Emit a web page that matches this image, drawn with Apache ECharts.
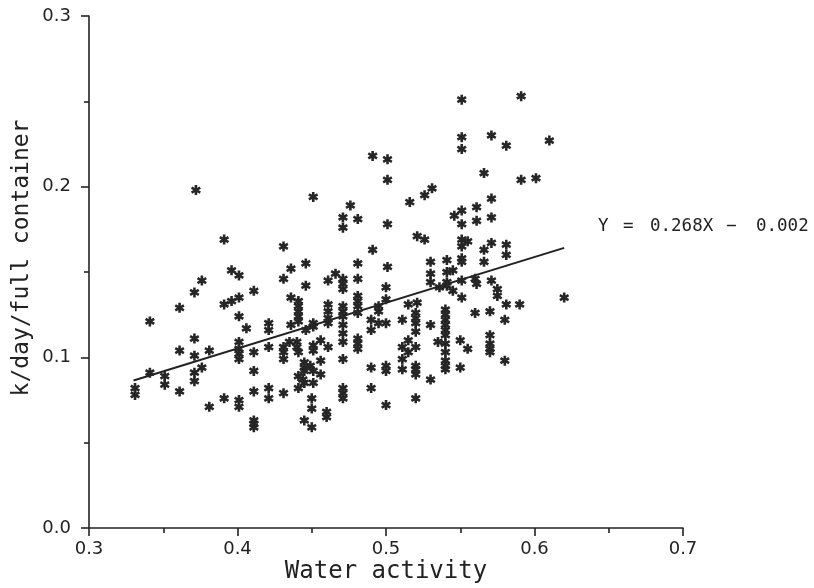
<!DOCTYPE html>
<html>
<head>
<meta charset="utf-8">
<script src="https://cdn.jsdelivr.net/npm/echarts@6/dist/echarts.min.js"></script>
<style>
  html, body { margin: 0; padding: 0; background: #ffffff; }
  #chart { width: 814px; height: 588px; }
</style>
</head>
<body>
<div id="chart"></div>
<script>
// Water activity of each container sample (x) and its rate constant k/day/full container (y)
const waterActivity = [
  0.372, 0.391, 0.396, 0.401, 0.376, 0.371, 0.411, 0.401, 0.396, 0.391,
  0.361, 0.341, 0.401, 0.406, 0.421, 0.421, 0.371, 0.361, 0.401, 0.401,
  0.401, 0.401, 0.381, 0.411, 0.421, 0.371, 0.376, 0.371, 0.371, 0.341,
  0.351, 0.351, 0.411, 0.331, 0.331, 0.361, 0.411, 0.421, 0.421, 0.391,
  0.401, 0.401, 0.381, 0.411, 0.411, 0.411,
  0.501, 0.451, 0.476, 0.516, 0.526, 0.471, 0.471, 0.481, 0.501, 0.521,
  0.526, 0.431, 0.491, 0.436, 0.446, 0.481, 0.501, 0.431, 0.466, 0.461,
  0.471, 0.471, 0.471, 0.481, 0.446, 0.500, 0.436, 0.441, 0.441, 0.481,
  0.481, 0.481, 0.500, 0.461, 0.471, 0.495, 0.515, 0.521, 0.530, 0.530,
  0.530,
  0.441, 0.441, 0.441, 0.436, 0.451, 0.451, 0.446, 0.461, 0.461, 0.461,
  0.471, 0.471, 0.481, 0.495, 0.490, 0.490, 0.495, 0.500, 0.511, 0.520,
  0.520, 0.520, 0.520, 0.530, 0.471, 0.471, 0.471, 0.435, 0.440, 0.440,
  0.441, 0.431, 0.431, 0.431, 0.451, 0.451, 0.456, 0.461, 0.481, 0.481,
  0.481, 0.471, 0.456, 0.445, 0.445, 0.445, 0.449, 0.451, 0.456, 0.451,
  0.445, 0.441, 0.441, 0.444, 0.511, 0.515, 0.515, 0.520, 0.511, 0.490,
  0.500, 0.500, 0.511, 0.520, 0.520, 0.520, 0.530, 0.490, 0.431, 0.471,
  0.471, 0.471, 0.450, 0.450, 0.500, 0.520, 0.460, 0.460, 0.445, 0.450,
  0.566, 0.591, 0.601, 0.531, 0.571, 0.551, 0.561, 0.546, 0.551, 0.561,
  0.571, 0.551, 0.555, 0.551, 0.571, 0.566, 0.581, 0.581, 0.551, 0.551,
  0.541, 0.566, 0.541, 0.545, 0.541, 0.551, 0.536, 0.541, 0.560, 0.561,
  0.545, 0.571, 0.575, 0.575, 0.551, 0.620, 0.581, 0.590, 0.560, 0.570,
  0.580,
  0.540, 0.540, 0.540, 0.540, 0.540, 0.540, 0.540, 0.540, 0.540, 0.540,
  0.540,
  0.535, 0.550, 0.555, 0.570, 0.570, 0.570, 0.570, 0.550, 0.580,
  0.551, 0.591, 0.551, 0.551, 0.571, 0.581, 0.610, 0.491, 0.501
];

const rateK = [
  0.198, 0.169, 0.151, 0.148, 0.145, 0.138, 0.139, 0.135, 0.133, 0.131,
  0.129, 0.121, 0.124, 0.117, 0.120, 0.116, 0.111, 0.104, 0.109, 0.105,
  0.102, 0.099, 0.104, 0.103, 0.106, 0.101, 0.094, 0.091, 0.086, 0.091,
  0.089, 0.084, 0.092, 0.082, 0.078, 0.080, 0.080, 0.082, 0.076, 0.076,
  0.075, 0.071, 0.071, 0.063, 0.061, 0.059,
  0.204, 0.194, 0.189, 0.191, 0.195, 0.182, 0.176, 0.181, 0.178, 0.171,
  0.169, 0.165, 0.163, 0.152, 0.155, 0.155, 0.153, 0.146, 0.149, 0.145,
  0.146, 0.143, 0.140, 0.146, 0.142, 0.141, 0.135, 0.133, 0.130, 0.136,
  0.133, 0.130, 0.134, 0.131, 0.130, 0.130, 0.131, 0.132, 0.156, 0.149,
  0.144,
  0.127, 0.124, 0.121, 0.119, 0.120, 0.118, 0.116, 0.127, 0.123, 0.120,
  0.127, 0.124, 0.126, 0.127, 0.122, 0.116, 0.120, 0.120, 0.122, 0.126,
  0.123, 0.120, 0.115, 0.119, 0.119, 0.114, 0.109, 0.109, 0.109, 0.106,
  0.103, 0.106, 0.103, 0.099, 0.107, 0.104, 0.110, 0.106, 0.111, 0.108,
  0.105, 0.099, 0.098, 0.097, 0.094, 0.092, 0.095, 0.092, 0.090, 0.085,
  0.085, 0.089, 0.082, 0.087, 0.106, 0.110, 0.103, 0.106, 0.099, 0.094,
  0.095, 0.092, 0.093, 0.095, 0.093, 0.090, 0.087, 0.082, 0.079, 0.082,
  0.079, 0.076, 0.076, 0.070, 0.072, 0.076, 0.068, 0.065, 0.063, 0.059,
  0.208, 0.204, 0.205, 0.199, 0.193, 0.186, 0.188, 0.183, 0.178, 0.180,
  0.182, 0.169, 0.168, 0.165, 0.167, 0.163, 0.166, 0.160, 0.158, 0.156,
  0.157, 0.156, 0.150, 0.151, 0.144, 0.145, 0.141, 0.142, 0.146, 0.143,
  0.139, 0.145, 0.140, 0.136, 0.135, 0.135, 0.131, 0.131, 0.126, 0.127,
  0.122,
  0.128, 0.125, 0.122, 0.119, 0.116, 0.113, 0.108, 0.103, 0.098, 0.095,
  0.093,
  0.109, 0.110, 0.105, 0.113, 0.108, 0.105, 0.103, 0.094, 0.098,
  0.251, 0.253, 0.229, 0.222, 0.230, 0.224, 0.227, 0.218, 0.216
];

// Least-squares fit printed on the plot: Y = slope * X + intercept
const fitSlope = 0.268;
const fitIntercept = -0.002;
const fitRange = [0.33, 0.62];

// Axis ranges
const xRange = [0.3, 0.7];
const yRange = [0.0, 0.3];
const tickStep = 0.1;

const points = waterActivity.map((x, i) => [x, rateK[i]]);
const fitLine = fitRange.map(x => [x, fitSlope * x + fitIntercept]);

const signOf = fitIntercept < 0 ? '\u2212' : '+';
const eqTokens = ['Y', '=', fitSlope.toFixed(3) + 'X', signOf, Math.abs(fitIntercept).toFixed(3)];
const eqOffsets = [0, 25, 52, 128, 158];

// six-armed asterisk marker: three overlapping bars
const asterisk = 'path://M-0.26,-1L0.26,-1L0.26,1L-0.26,1Z' +
  'M0.736,-0.725L0.996,-0.275L-0.736,0.725L-0.996,0.275Z' +
  'M0.996,0.275L0.736,0.725L-0.996,-0.275L-0.736,-0.725Z';

const MONO = '"DejaVu Sans Mono", monospace';
const SANS = '"DejaVu Sans", sans-serif';
const INK = '#222222';

const chart = echarts.init(document.getElementById('chart'), null, { renderer: 'canvas' });

const axisCommon = {
  type: 'value',
  interval: tickStep,
  axisLine: { show: true, onZero: false, lineStyle: { color: INK, width: 1.6 } },
  axisTick: { show: true, inside: false, length: 8, lineStyle: { color: INK, width: 1.6 } },
  minorTick: { show: true, splitNumber: 2, length: 5, lineStyle: { color: INK, width: 1.6 } },
  splitLine: { show: false },
  axisLabel: {
    color: INK, fontFamily: SANS, fontSize: 18,
    formatter: v => v.toFixed(1)
  }
};

chart.setOption({
  backgroundColor: '#ffffff',
  animation: false,
  grid: { left: 89, right: 131, top: 16, bottom: 60, containLabel: false },
  xAxis: Object.assign({}, axisCommon, {
    min: xRange[0], max: xRange[1],
    axisLabel: Object.assign({}, axisCommon.axisLabel, { margin: 12 })
  }),
  yAxis: Object.assign({}, axisCommon, {
    min: yRange[0], max: yRange[1],
    axisLabel: Object.assign({}, axisCommon.axisLabel, { margin: 18 })
  }),
  series: [
    {
      type: 'line',
      data: fitLine,
      showSymbol: false,
      silent: true,
      lineStyle: { color: INK, width: 2 },
      z: 2
    },
    {
      type: 'scatter',
      data: points,
      symbol: asterisk,
      symbolSize: 10,
      itemStyle: { color: '#262626', opacity: 1 },
      z: 3
    }
  ],
  graphic: [
    {
      type: 'text',
      x: 386, y: 572,
      style: {
        text: 'Water activity',
        font: '24px ' + MONO,
        fill: INK,
        align: 'center',
        verticalAlign: 'middle'
      }
    },
    {
      type: 'text',
      x: 22, y: 258,
      rotation: Math.PI / 2,
      style: {
        text: 'k/day/full container',
        font: '23px ' + MONO,
        fill: INK,
        align: 'center',
        verticalAlign: 'middle'
      }
    },
    {
      type: 'group',
      x: 598, y: 226,
      children: eqTokens.map((t, i) => ({
        type: 'text',
        x: eqOffsets[i], y: 0,
        style: {
          text: t,
          font: '17.5px ' + MONO,
          fill: INK,
          align: 'left',
          verticalAlign: 'middle'
        }
      }))
    }
  ]
});
</script>
</body>
</html>
